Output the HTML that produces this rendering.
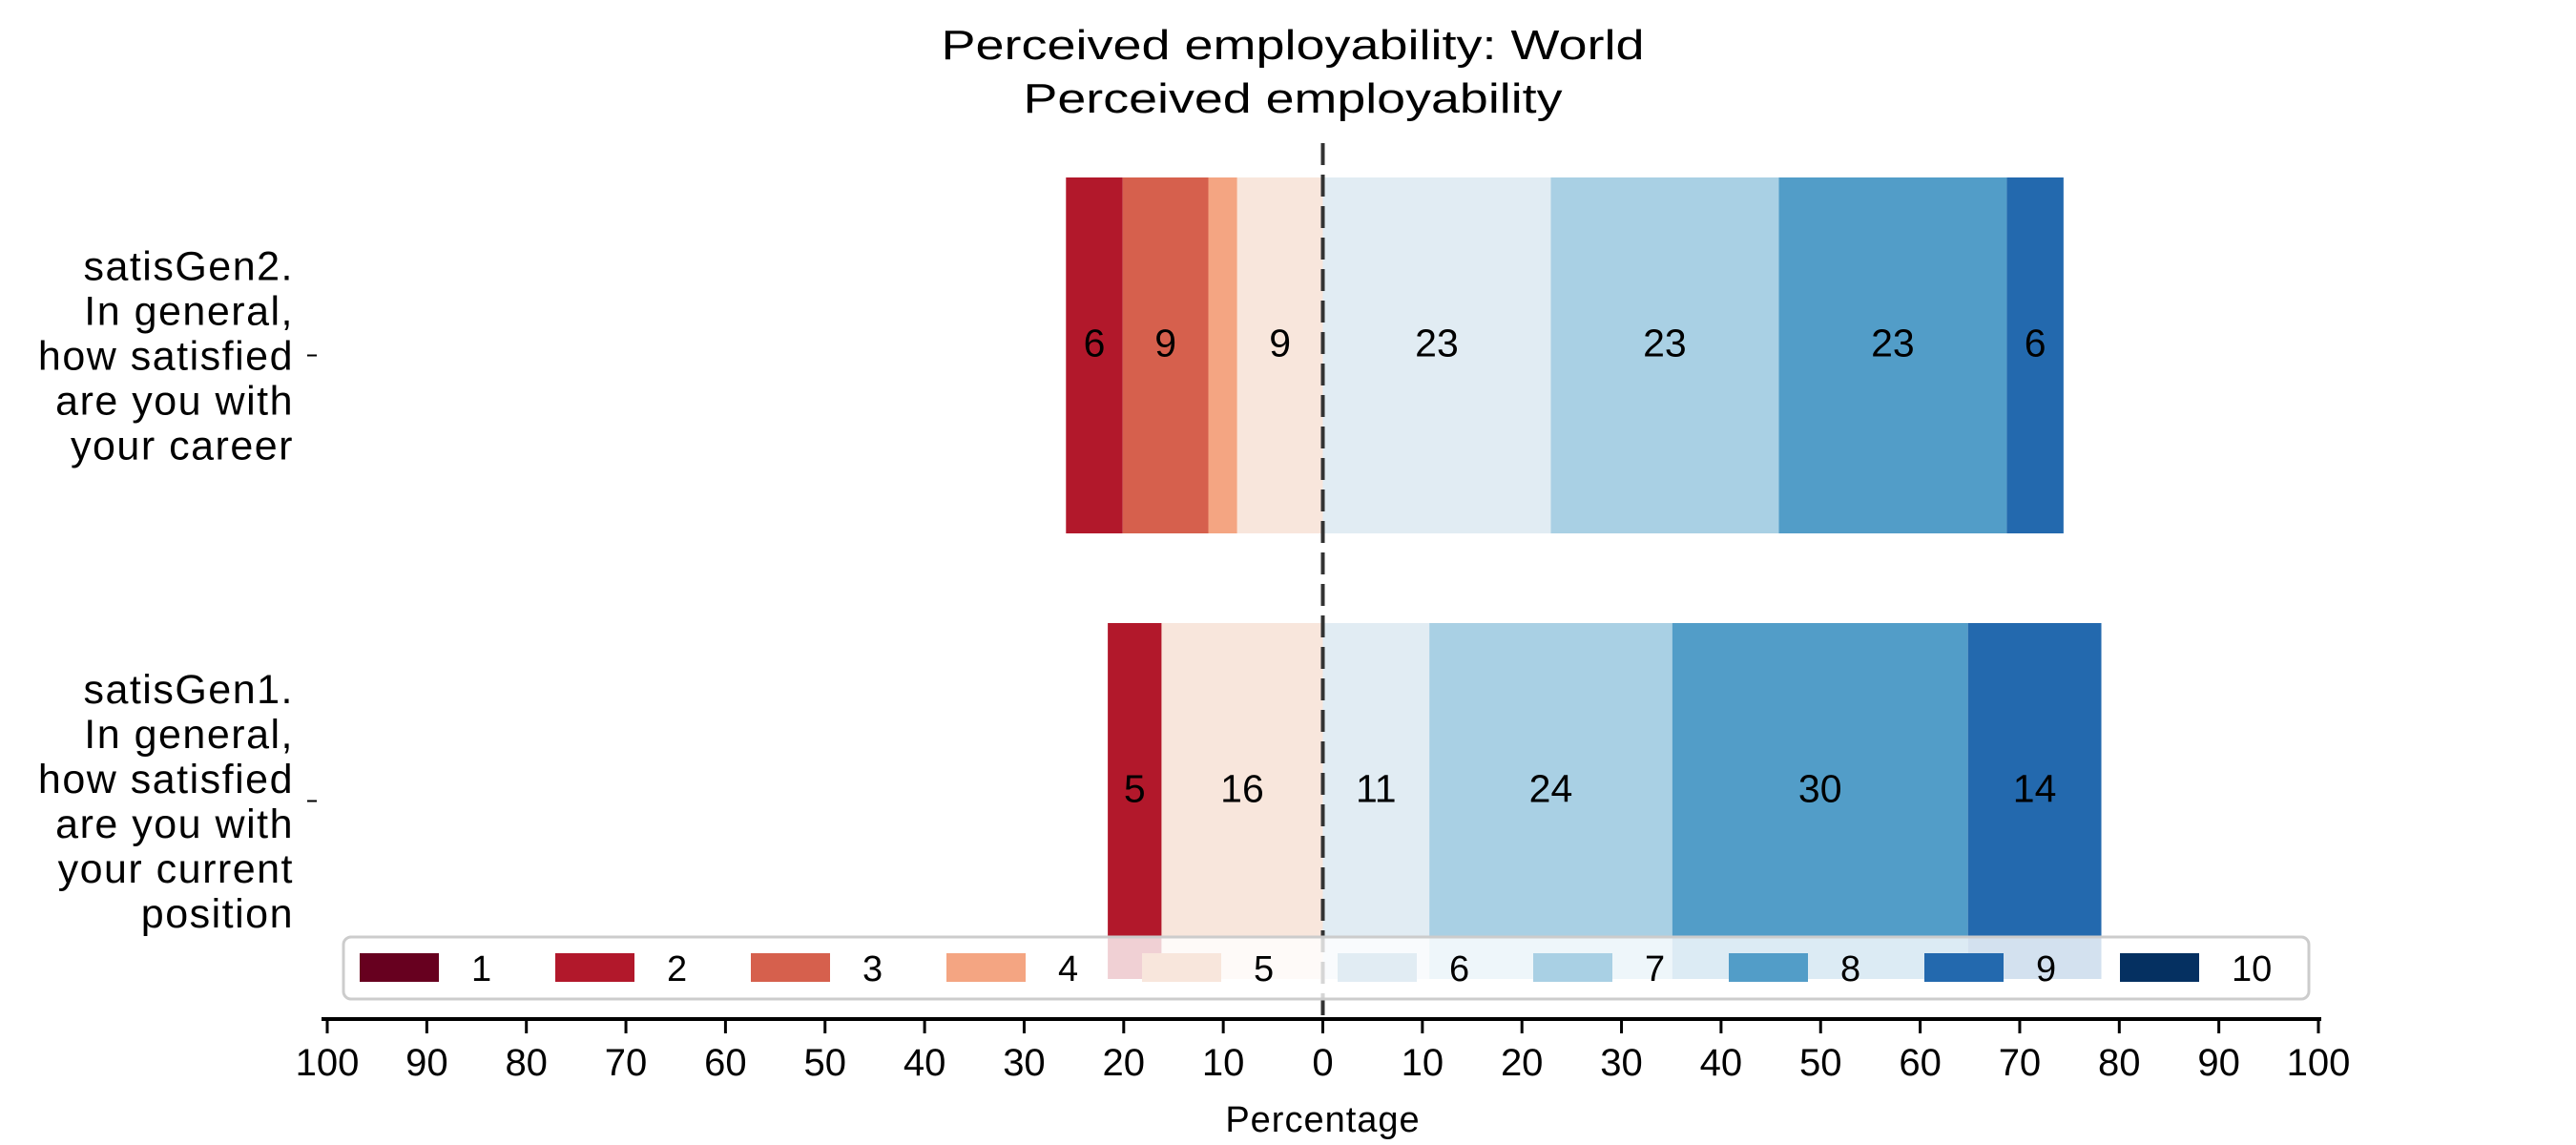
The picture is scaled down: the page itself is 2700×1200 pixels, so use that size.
<!DOCTYPE html>
<html><head><meta charset="utf-8">
<style>html,body{margin:0;padding:0;background:#fff;}svg{display:block;font-family:"Liberation Sans",sans-serif;}</style>
</head><body>
<svg id="chart" width="2700" height="1200" viewBox="0 0 2700 1200" xmlns="http://www.w3.org/2000/svg">
<text x="1355" y="62" font-size="44" text-anchor="middle" textLength="737" lengthAdjust="spacingAndGlyphs">Perceived employability: World</text>
<text x="1355" y="118" font-size="44" text-anchor="middle" textLength="565" lengthAdjust="spacingAndGlyphs">Perceived employability</text>
<g id="bars"></g>
<g id="ylabels"></g>
<line x1="1386.5" y1="150" x2="1386.5" y2="1068" stroke="#333" stroke-width="4" stroke-dasharray="23,10"/>
<g id="legend"></g>
<g id="xaxis"></g>
<text x="1386.5" y="1186" font-size="38" text-anchor="middle" letter-spacing="1">Percentage</text>
</svg>
<script>
const categories = ["satisGen2", "satisGen1"];
const levels = ["1","2","3","4","5","6","7","8","9","10"];
const seriesGen2 = [0, 5.7, 8.6, 2.9, 8.6, 22.9, 22.9, 22.9, 5.7, 0];
const seriesGen1 = [0, 5.4, 0, 0, 16.2, 10.7, 24.4, 29.7, 13.4, 0];
const printedGen2 = ["", "6", "9", "", "9", "23", "23", "23", "6", ""];
const printedGen1 = ["", "5", "", "", "16", "11", "24", "30", "14", ""];
const tickValues = [-100,-90,-80,-70,-60,-50,-40,-30,-20,-10,0,10,20,30,40,50,60,70,80,90,100];
const tickLabels = ["100","90","80","70","60","50","40","30","20","10","0","10","20","30","40","50","60","70","80","90","100"];
const labelLines = [
  ["satisGen2.","In general,","how satisfied","are you with","your career"],
  ["satisGen1.","In general,","how satisfied","are you with","your current","position"]
];
const colors = ["#67001f","#b2182b","#d6604d","#f4a582","#f8e6dc","#e1ecf3","#a9d0e4","#529dc8","#2369ae","#053061"];
const NS = "http://www.w3.org/2000/svg";
const X0 = 1386.5, PX = 10.435;
function xs(v){ return X0 + v*PX; }
const bandTop = [186, 653], bandH = 373;
function yc(i){ return bandTop[i] + bandH/2; }
function mk(tag, attrs, parent){ const e=document.createElementNS(NS,tag); for(const k in attrs) e.setAttribute(k,attrs[k]); parent.appendChild(e); return e; }
const barsG = document.getElementById('bars');
[seriesGen2, seriesGen1].forEach((s, ci) => {
  const printed = ci===0 ? printedGen2 : printedGen1;
  let neg = 0; for (let k=0;k<5;k++) neg += s[k];
  let start = -neg;
  s.forEach((v, k) => {
    if (v > 0) {
      const r = mk('rect', {x: xs(start), y: bandTop[ci], width: v*PX, height: bandH, fill: colors[k]}, barsG);
      
      
      if (printed[k]) {
        const t = mk('text', {x: xs(start + v/2), y: yc(ci)+1, 'font-size': 41, 'text-anchor': 'middle', fill: '#000'}, barsG);
        
        
        t.textContent = printed[k];
      }
    }
    start += v;
  });
});
const yl = document.getElementById('ylabels');
labelLines.forEach((lines, i) => {
  const lh = 47, top = yc(i) - (lines.length-1)*lh/2;
  const g = mk('g', {}, yl);
  
  
  lines.forEach((ln, j) => { const t = mk('text', {x: 308, y: top + j*lh + 15, 'font-size': 43, 'text-anchor': 'end', 'letter-spacing': 1.5}, g); t.textContent = ln; });
  const tk = mk('line', {x1: 322, x2: 332, y1: yc(i), y2: yc(i), stroke: '#000', 'stroke-width': 2}, yl);
  
  
});
const xa = document.getElementById('xaxis');
const axl = mk('line', {x1: 337, x2: 2433, y1: 1068, y2: 1068, stroke: '#000', 'stroke-width': 4}, xa);


tickValues.forEach((v, i) => {
  const tk = mk('line', {x1: xs(v), x2: xs(v), y1: 1068, y2: 1083, stroke: '#000', 'stroke-width': 3}, xa);
  
  
  const t = mk('text', {x: xs(v), y: 1127, 'font-size': 40, 'text-anchor': 'middle'}, xa);
  
  
  t.textContent = tickLabels[i];
});
const lg = document.getElementById('legend');
const box = mk('rect', {x: 360, y: 982, width: 2060, height: 65, rx: 8, fill: 'rgba(255,255,255,0.8)', stroke: '#cccccc', 'stroke-width': 3}, lg);


levels.forEach((lv, k) => {
  const x = 377 + k*205;
  const g = mk('g', {}, lg);
  
  
  mk('rect', {x: x, y: 999, width: 83, height: 30, fill: colors[k]}, g);
  const t = mk('text', {x: x + 117, y: 1028, 'font-size': 38}, g);
  t.textContent = lv;
});
</script>
</body></html>
